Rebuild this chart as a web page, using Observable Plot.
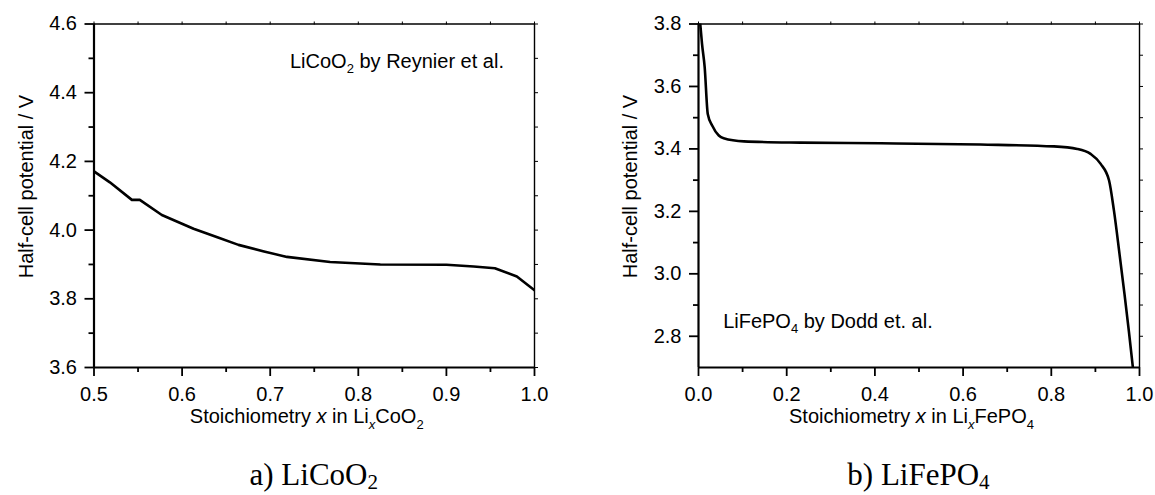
<!DOCTYPE html>
<html><head><meta charset="utf-8">
<script src="https://cdn.jsdelivr.net/npm/d3@7"></script>
<script src="https://cdn.jsdelivr.net/npm/@observablehq/plot@0.6"></script>
<style>
body{margin:0;background:#fff;}
#wrap{position:relative;width:1155px;height:495px;overflow:hidden;background:#fff;}
.panel{position:absolute;top:0;}
.cap{position:absolute;font-family:"Liberation Serif","Times New Roman",serif;font-size:31px;line-height:31px;color:#000;white-space:nowrap;transform:translateX(-50%);}
.cap sub{font-size:0.68em;vertical-align:-0.2em;line-height:0;}
</style></head><body><div id="wrap"></div>
<script>
// ---- data ----
const licooX = [0.500, 0.518, 0.543, 0.552, 0.577, 0.594, 0.613, 0.640, 0.664, 0.693, 0.719, 0.768, 0.825, 0.900, 0.931, 0.955, 0.980, 1.000];
const licooV = [4.171, 4.139, 4.088, 4.088, 4.044, 4.025, 4.004, 3.979, 3.957, 3.938, 3.922, 3.907, 3.900, 3.899, 3.894, 3.889, 3.865, 3.825];
const lifepoX = [0.004, 0.008, 0.014, 0.021, 0.031, 0.046, 0.057, 0.103, 0.231, 0.413, 0.639, 0.806, 0.859, 0.889, 0.912, 0.931, 0.942, 0.955, 0.966, 0.976, 0.985];
const lifepoV = [3.800, 3.736, 3.662, 3.512, 3.475, 3.443, 3.434, 3.424, 3.420, 3.418, 3.414, 3.408, 3.400, 3.384, 3.352, 3.299, 3.203, 3.060, 2.935, 2.815, 2.700];

const licooXTicks = [0.5, 0.6, 0.7, 0.8, 0.9, 1.0];
const licooXMinor = [0.55, 0.65, 0.75, 0.85, 0.95];
const licooYTicks = [3.6, 3.8, 4.0, 4.2, 4.4, 4.6];
const licooYMinor = [3.7, 3.9, 4.1, 4.3, 4.5];
const lifepoXTicks = [0.0, 0.2, 0.4, 0.6, 0.8, 1.0];
const lifepoXMinor = [0.1, 0.3, 0.5, 0.7, 0.9];
const lifepoYTicks = [2.8, 3.0, 3.2, 3.4, 3.6, 3.8];
const lifepoYMinor = [2.9, 3.1, 3.3, 3.5, 3.7];

const licooNote = {x: 0.723, y: 4.470, main: "LiCoO", sub: "2", rest: " by Reynier et al."};
const lifepoNote = {x: 0.057, y: 2.825, main: "LiFePO", sub: "4", rest: " by Dodd et. al."};
const licooXLabel = {main: "Li", sub: "x", rest: "CoO", sub2: "2"};
const lifepoXLabel = {main: "Li", sub: "x", rest: "FePO", sub2: "4"};
const yLabel = "Half-cell potential / V";
const captions = [{pre: "a) LiCoO", sub: "2"}, {pre: "b) LiFePO", sub: "4"}];

const fmt = d3.format(".1f");
const wrap = document.getElementById("wrap");

function panel(o) {
  const data = o.xs.map((x, i) => ({x, y: o.ys[i]}));
  const H = 440, mt = 23.5, mb = 73;
  const chart = Plot.plot({
    width: o.width, height: H,
    marginLeft: o.ml, marginRight: o.mr, marginTop: mt, marginBottom: mb,
    style: {fontFamily: '"Liberation Sans", Arial, sans-serif', fontSize: "20px", color: "#000", background: "#fff", overflow: "visible"},
    x: {domain: o.xd},
    y: {domain: o.yd},
    marks: [
      Plot.line(data, {x: "x", y: "y", stroke: "#000", strokeWidth: 2.6, curve: o.curve, clip: true}),
      Plot.axisX(o.xt, {anchor: "bottom", tickSize: 9, tickPadding: 10, tickFormat: fmt, label: null, strokeWidth: 1.8}),
      Plot.axisX(o.xm, {anchor: "bottom", tickSize: 5, fill: "none", label: null, strokeWidth: 1.8}),
      Plot.axisX([...o.xt, ...o.xm], {anchor: "top", tickSize: 3, fill: "none", label: null, strokeWidth: 1}),
      Plot.axisY(o.yt, {anchor: "left", tickSize: 9, tickPadding: 8, tickFormat: fmt, label: null, strokeWidth: 1.8}),
      Plot.axisY(o.ym, {anchor: "left", tickSize: 5, fill: "none", label: null, strokeWidth: 1.8}),
      Plot.axisY([...o.yt, ...o.ym], {anchor: "right", tickSize: 3, fill: "none", label: null, strokeWidth: 1}),
      Plot.ruleY([o.yd[1]], {stroke: "#000", strokeWidth: 1.4}),
      Plot.ruleX([o.xd[1]], {stroke: "#000", strokeWidth: 1.4}),
      Plot.ruleX([o.xd[0]], {stroke: "#000", strokeWidth: 2.2}),
      Plot.ruleY([o.yd[0]], {stroke: "#000", strokeWidth: 2.2})
    ]
  });
  const div = document.createElement("div");
  div.className = "panel";
  div.style.left = o.left + "px";
  div.appendChild(chart);
  wrap.appendChild(div);

  const svg = d3.select(chart.tagName === "svg" ? chart : chart.querySelector("svg"));
  const sx = chart.scale("x"), sy = chart.scale("y");
  const plotW = o.width - o.ml - o.mr;

  // annotation
  const n = svg.append("text").attr("x", sx.apply(o.note.x)).attr("y", sy.apply(o.note.y))
    .attr("text-anchor", "start").attr("font-size", 20).attr("fill", "#000");
  n.append("tspan").text(o.note.main);
  n.append("tspan").attr("font-size", 13).attr("dy", 5).text(o.note.sub);
  n.append("tspan").attr("dy", -5).text(o.note.rest);

  // x label
  const xl = svg.append("text").attr("x", o.ml + plotW / 2 - 7).attr("y", 423)
    .attr("text-anchor", "middle").attr("font-size", 20).attr("fill", "#000");
  xl.append("tspan").text("Stoichiometry ");
  xl.append("tspan").attr("font-style", "italic").text("x");
  xl.append("tspan").text(" in " + o.xl.main);
  xl.append("tspan").attr("font-size", 13).attr("font-style", "italic").attr("dy", 6).text(o.xl.sub);
  xl.append("tspan").attr("dy", -6).text(o.xl.rest);
  xl.append("tspan").attr("font-size", 13).attr("dy", 6).text(o.xl.sub2);

  // y label
  svg.append("text").attr("transform", `translate(${o.ml - 61},${186.5}) rotate(-90)`)
    .attr("text-anchor", "middle").attr("font-size", 20).attr("fill", "#000").text(yLabel);

  // caption
  const cap = document.createElement("div");
  cap.className = "cap";
  cap.style.left = (o.left + o.ml + plotW / 2) + "px";
  cap.style.top = "459px";
  cap.innerHTML = o.cap.pre + "<sub>" + o.cap.sub + "</sub>";
  wrap.appendChild(cap);
}

panel({left: 0, width: 560, ml: 93.5, mr: 26, xs: licooX, ys: licooV, xd: [0.5, 1.0], yd: [3.6, 4.6],
  xt: licooXTicks, xm: licooXMinor, yt: licooYTicks, ym: licooYMinor, curve: "linear",
  note: licooNote, xl: licooXLabel, cap: captions[0]});
panel({left: 605, width: 550, ml: 93, mr: 16, xs: lifepoX, ys: lifepoV, xd: [0.0, 1.0], yd: [2.7, 3.8],
  xt: lifepoXTicks, xm: lifepoXMinor, yt: lifepoYTicks, ym: lifepoYMinor, curve: "monotone-x",
  note: lifepoNote, xl: lifepoXLabel, cap: captions[1]});
</script>
</body></html>
